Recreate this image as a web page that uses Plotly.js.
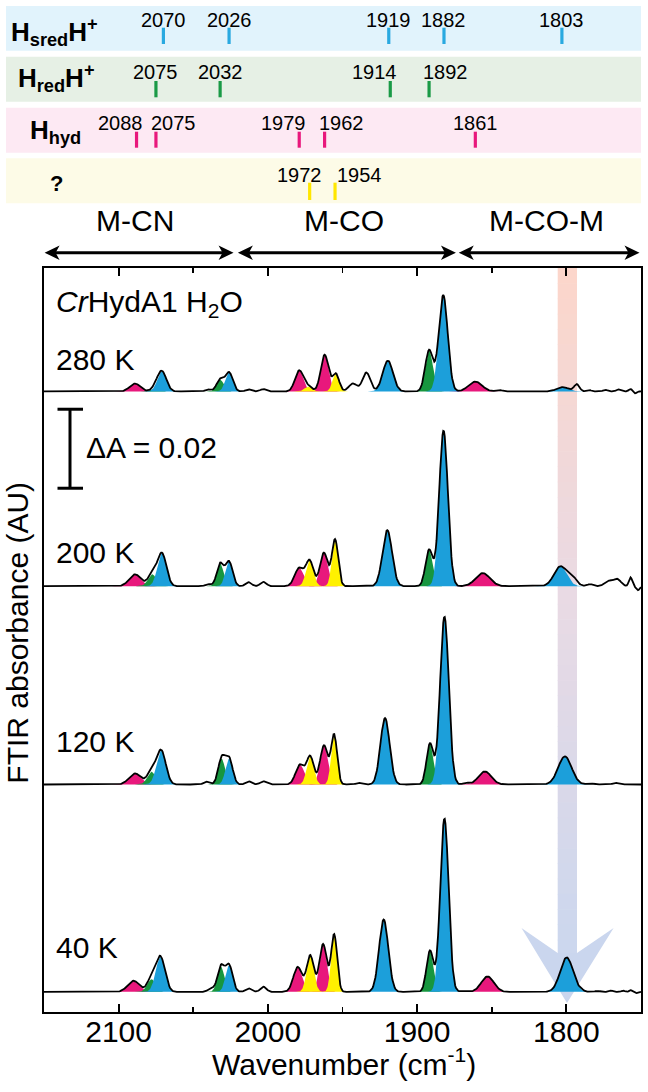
<!DOCTYPE html>
<html>
<head>
<meta charset="utf-8">
<script src="https://cdn.plot.ly/plotly-3.0.1.min.js"></script>
<style>
html,body{margin:0;padding:0;background:#ffffff;}
#chart{width:648px;height:1092px;}
</style>
</head>
<body>
<div id="chart"></div>
<script>
// ================= DATA =================
const xTickVals = [2100, 2000, 1900, 1800];
const xMinorTickVals = [2050, 1950, 1850];

// band assignments shown in the four header strips (cm-1)
const hsredLabels = ['2070', '2026', '1919', '1882', '1803'];
const hsredMarks  = [2070, 2026, 1919, 1882, 1803];
const hredLabels  = ['2075', '2032', '1914', '1892'];
const hredMarks   = [2075, 2032, 1918, 1892];
const hhydLabels  = ['2088', '2075', '1979', '1962', '1861'];
const hhydMarks   = [2088, 2075, 1979, 1962, 1861];
const unkLabels   = ['1972', '1954'];
const unkMarks    = [1972, 1955];

// spectral regions (cm-1)
const regionNames  = ['M-CN', 'M-CO', 'M-CO-M'];
const regionBounds = [[2150, 2023], [2020.5, 1874], [1872.5, 1751]];
const regionLabelAt = [2089, 1949, 1813];

const temperatures = ['280 K', '200 K', '120 K', '40 K'];
const baselines_mAU = [157.1, 107.8, 57.6, 5.1];  // stacking offsets
const scaleBar_mAU = 20;                           // ΔA = 0.02

// fitted components: [state, centre (cm-1), height (mAU), sigma (cm-1)]
const peaks280 = [
  ['Hhyd', 2089, 2.0, 3.5], ['Hred', 2075.5, 0.8, 2.5], ['Hsred', 2071, 5.1, 3.0],
  ['Hred', 2032, 3.0, 2.4], ['Hsred', 2026, 4.8, 2.5],
  ['Hhyd', 1979, 5.3, 2.8], ['unk', 1973, 1.2, 2.5], ['Hhyd', 1962, 9.3, 2.6], ['unk', 1954.5, 4.5, 2.2],
  ['Hsred', 1919.6, 7.8, 3.4], ['Hred', 1892, 10.4, 2.6], ['Hsred', 1882.5, 24.4, 3.0],
  ['Hhyd', 1861, 2.5, 4.5], ['Hsred', 1802.5, 1.1, 4.0]
];
const peaks200 = [
  ['Hhyd', 2089, 3.0, 3.9], ['Hred', 2077.5, 3.0, 2.8], ['Hsred', 2071, 8.3, 3.0],
  ['Hred', 2032, 5.7, 2.3], ['Hsred', 2026, 6.2, 2.4],
  ['Hhyd', 1979, 4.6, 3.0], ['unk', 1972, 6.4, 2.5], ['Hhyd', 1962.5, 8.5, 2.6], ['unk', 1955, 11.8, 2.1],
  ['Hsred', 1920, 14.2, 3.2], ['Hred', 1892, 9.2, 2.4], ['Hsred', 1882.3, 39.4, 2.9],
  ['Hhyd', 1856, 3.3, 4.8], ['Hsred', 1804, 5.0, 4.3]
];
const peaks120 = [
  ['Hhyd', 2089, 2.8, 4.0], ['Hred', 2078, 3.2, 2.8], ['Hsred', 2071.5, 8.6, 3.1],
  ['Hred', 2031, 6.5, 2.3], ['Hsred', 2026, 6.5, 2.4],
  ['Hhyd', 1978.5, 5.0, 2.9], ['unk', 1971.6, 7.0, 2.4], ['Hhyd', 1962.4, 9.9, 2.6], ['unk', 1955.6, 12.5, 2.0],
  ['Hsred', 1921.5, 16.8, 3.1], ['Hred', 1891.4, 10.3, 2.3], ['Hsred', 1881.7, 42.5, 2.9],
  ['Hhyd', 1854.6, 3.3, 4.3], ['Hsred', 1801, 7.1, 4.5]
];
const peaks40 = [
  ['Hhyd', 2090, 2.8, 3.9], ['Hred', 2078, 3.2, 2.8], ['Hsred', 2072, 8.8, 3.1],
  ['Hred', 2031.5, 6.4, 2.3], ['Hsred', 2026, 6.7, 2.4],
  ['Hhyd', 1980, 6.3, 2.9], ['unk', 1971.6, 9.2, 2.4], ['Hhyd', 1963, 12.1, 2.5], ['unk', 1955.6, 14.5, 2.0],
  ['Hsred', 1922.4, 18.3, 3.1], ['Hred', 1891.4, 10.4, 2.3], ['Hsred', 1881.7, 43.9, 2.8],
  ['Hhyd', 1852.8, 3.9, 4.2], ['Hsred', 1799.8, 8.7, 4.3]
];
// unassigned features of the measured trace: [centre (cm-1), height (mAU), sigma (cm-1)]
const extra280 = [[2040, 0.5, 2], [2013, 0.5, 2], [2003, 0.6, 2], [1943, 2.0, 2.8], [1934, 4.8, 2.6],
  [1845, 0.4, 2], [1793, 1.8, 1.8], [1785, 0.4, 1.5], [1774, 0.4, 1.5], [1765, 0.5, 1.5], [1757, 0.6, 1.2], [1754, -0.5, 1]];
const extra200 = [[2040, 0.5, 2], [2013, 1.0, 2], [2003, 1.1, 2], [1796, 2.0, 3],
  [1784, 0.5, 2], [1772, 1.3, 2.5], [1766, 1.8, 2.5], [1757, 2.2, 1.1], [1752, -1.0, 1.2]];
const extra120 = [[2041, 0.7, 2], [2013, 0.8, 2], [2003, 0.8, 2], [1939, 0.4, 2], [1867, 0.4, 2], [1784, 0.3, 2], [1767, 0.4, 2]];
const extra40 = [[2038, 0.9, 2], [2013, 0.9, 2], [2003, 1.3, 2], [1869, 0.3, 2],
  [1790, 0.3, 1.5], [1779, 0.25, 1.5], [1770, 0.35, 1.2], [1762, 0.3, 1.2], [1757, 0.4, 1], [1753, -0.3, 1]];

// ================= LAYOUT / STYLE =================
const W = 648, H = 1092;
const M = {l: 44, r: 7, t: 268, b: 80};
const plotW = W - M.l - M.r, plotH = H - M.t - M.b;
const X_RANGE = [2150, 1750];
const Y_RANGE = [0, plotH / 3.95];
const FONT = 'Liberation Sans, Arial, Helvetica, sans-serif';
const FILL = {Hsred: '#1c9fda', Hred: '#17963f', Hhyd: '#e8187c', unk: '#fff100'};
const MARK = {Hsred: '#29a9e0', Hred: '#1a9a46', Hhyd: '#e8187c', unk: '#ffe600'};
const drawOrder = ['Hhyd', 'unk', 'Hred', 'Hsred'];

function wx(px) { return X_RANGE[0] - (px - M.l) / plotW * (X_RANGE[0] - X_RANGE[1]); }
function py(p) { return (H - M.b - p) / plotH; }
function pxp(px) { return (px - M.l) / plotW; }
function gauss(w, c, h, s) { return h * Math.exp(-0.5 * Math.pow((w - c) / s, 2)); }

const allPeaks = [peaks280, peaks200, peaks120, peaks40];
const allExtra = [extra280, extra200, extra120, extra40];

const traces = [];
const grid = [];
for (let w = X_RANGE[0]; w >= X_RANGE[1] - 1e-9; w -= 0.5) grid.push(w);

allPeaks.forEach((peaks, i) => {
  const off = baselines_mAU[i];
  drawOrder.forEach(state => {
    peaks.filter(p => p[0] === state).forEach(p => {
      const c = p[1], h = p[2], s = p[3];
      const xs = [], ys = [];
      for (let w = c + 4 * s; w >= c - 4 * s; w -= 0.25) { xs.push(w); ys.push(off + gauss(w, c, h, s)); }
      xs.push(c - 4 * s, c + 4 * s); ys.push(off, off);
      traces.push({type: 'scatter', mode: 'lines', x: xs, y: ys, fill: 'toself',
        fillcolor: FILL[state], line: {width: 0}, hoverinfo: 'skip', showlegend: false});
    });
  });
  const env = grid.map(w => {
    let v = off;
    peaks.forEach(p => { v += gauss(w, p[1], p[2], p[3]); });
    allExtra[i].forEach(e => { v += gauss(w, e[0], e[1], e[2]); });
    return v;
  });
  traces.push({type: 'scatter', mode: 'lines', x: grid, y: env, name: temperatures[i],
    line: {color: '#000000', width: 1.8}, hoverinfo: 'skip', showlegend: false});
});

const shapes = [];
const annotations = [];

// header strips
const strips = [
  {y0: 6, y1: 50.7, color: '#e1f3fc'},
  {y0: 56.7, y1: 101.7, color: '#e6f0e5'},
  {y0: 107.7, y1: 152.7, color: '#fde9f3'},
  {y0: 158.3, y1: 203.3, color: '#fdfbe7'}
];
strips.forEach(s => shapes.push({type: 'rect', xref: 'paper', yref: 'paper',
  x0: pxp(6), x1: 1, y0: py(s.y1), y1: py(s.y0), fillcolor: s.color, line: {width: 0}, layer: 'above'}));

const stripRows = [
  {state: 'Hsred', marks: hsredMarks, labels: hsredLabels, shift: [0, 0, 0, 0, 0], ty: 20, b0: 27.7, b1: 44},
  {state: 'Hred', marks: hredMarks, labels: hredLabels, shift: [0, 0, -15.5, 16.5], ty: 71.7, b0: 81, b1: 97.3},
  {state: 'Hhyd', marks: hhydMarks, labels: hhydLabels, shift: [-15.7, 17.4, -16.1, 16.9, 0], ty: 123.3, b0: 131.7, b1: 147.7},
  {state: 'unk', marks: unkMarks, labels: unkLabels, shift: [-9.7, 24], ty: 175, b0: 182.7, b1: 200}
];
stripRows.forEach(r => {
  r.marks.forEach((m, k) => {
    shapes.push({type: 'line', xref: 'x', yref: 'paper', x0: m, x1: m, y0: py(r.b1), y1: py(r.b0),
      line: {color: MARK[r.state], width: 3.2}, layer: 'above'});
    annotations.push({xref: 'x', yref: 'paper', x: m, y: py(r.ty), xshift: r.shift[k], text: r.labels[k],
      showarrow: false, xanchor: 'center', yanchor: 'middle', font: {family: FONT, size: 20, color: '#000'}});
  });
});
// strip names
const stripNames = [
  {text: '<b>H<sub>sred</sub>H<sup>+</sup></b>', x: 9.3, y: 32, anchor: 'left', size: 26},
  {text: '<b>H<sub>red</sub>H<sup>+</sup></b>', x: 15.5, y: 78, anchor: 'left', size: 26},
  {text: '<b>H<sub>hyd</sub></b>', x: 28, y: 131, anchor: 'left', size: 26},
  {text: '<b>?</b>', x: 56, y: 183, anchor: 'center', size: 22}
];
stripNames.forEach(s => annotations.push({xref: 'paper', yref: 'paper', x: pxp(s.x), y: py(s.y), text: s.text,
  showarrow: false, xanchor: s.anchor, yanchor: 'middle', font: {family: FONT, size: s.size, color: '#000'}}));

// region double arrows
const arrowY = 252.7;
function headPath(tipPx, yPx, dir) {
  const L = 15, hw = 7.2, n = 4;
  const pts = [[tipPx, yPx], [tipPx - dir * L, yPx - hw], [tipPx - dir * (L - n), yPx], [tipPx - dir * L, yPx + hw]];
  return 'M' + pts.map(p => wx(p[0]) + ',' + py(p[1])).join(' L') + ' Z';
}
function toPx(w) { return M.l + (X_RANGE[0] - w) / (X_RANGE[0] - X_RANGE[1]) * plotW; }
regionBounds.forEach((b, k) => {
  const pL = toPx(b[0]) + 0.6, pR = toPx(b[1]);
  shapes.push({type: 'line', xref: 'x', yref: 'paper', x0: wx(pL + 10), x1: wx(pR - 10), y0: py(arrowY), y1: py(arrowY),
    line: {color: '#000', width: 3}});
  shapes.push({type: 'path', xref: 'x', yref: 'paper', path: headPath(pL, arrowY, -1), fillcolor: '#000', line: {width: 0}});
  shapes.push({type: 'path', xref: 'x', yref: 'paper', path: headPath(pR, arrowY, 1), fillcolor: '#000', line: {width: 0}});
  annotations.push({xref: 'x', yref: 'paper', x: regionLabelAt[k], y: py(221), text: regionNames[k], showarrow: false,
    xanchor: 'center', yanchor: 'middle', font: {family: FONT, size: 30, color: '#000'}});
});

// highlighted 1800 band with gradient + arrow head
const bandL = 557.7, bandR = 577, bandTop = M.t, bandBot = 955;
const stops = [[268, [252, 214, 202]], [600, [233, 218, 228]], [955, [203, 215, 238]]];
function colAt(y) {
  for (let k = 0; k < stops.length - 1; k++) {
    if (y <= stops[k + 1][0]) {
      const t = (y - stops[k][0]) / (stops[k + 1][0] - stops[k][0]);
      const c = stops[k][1].map((v, j) => Math.round(v + (stops[k + 1][1][j] - v) * t));
      return 'rgb(' + c.join(',') + ')';
    }
  }
  return 'rgb(' + stops[stops.length - 1][1].join(',') + ')';
}
const NS = 45;
for (let k = 0; k < NS; k++) {
  const y0 = bandTop + (bandBot - bandTop) * k / NS, y1 = bandTop + (bandBot - bandTop) * (k + 1) / NS + 0.6;
  shapes.push({type: 'rect', xref: 'x', yref: 'paper', x0: wx(bandL), x1: wx(bandR), y0: py(y1), y1: py(y0),
    fillcolor: colAt((y0 + y1) / 2), line: {width: 0}, layer: 'below'});
}
const headPts = [[521.5, 928], [bandL, 953], [bandR, 953], [613.6, 928], [567, 1003]];
shapes.push({type: 'path', xref: 'x', yref: 'paper', layer: 'below', fillcolor: 'rgb(202,214,238)', line: {width: 0},
  path: 'M' + headPts.map(p => wx(p[0]) + ',' + py(p[1])).join(' L') + ' Z'});

// ΔA scale bar
const sbBottom = 132.6;
const sbX = wx(70), sbX0 = wx(57.5), sbX1 = wx(83);
shapes.push({type: 'line', xref: 'x', yref: 'y', x0: sbX, x1: sbX, y0: sbBottom, y1: sbBottom + scaleBar_mAU, line: {color: '#000', width: 3}});
shapes.push({type: 'line', xref: 'x', yref: 'y', x0: sbX0, x1: sbX1, y0: sbBottom, y1: sbBottom, line: {color: '#000', width: 3}});
shapes.push({type: 'line', xref: 'x', yref: 'y', x0: sbX0, x1: sbX1, y0: sbBottom + scaleBar_mAU, y1: sbBottom + scaleBar_mAU, line: {color: '#000', width: 3}});
annotations.push({xref: 'paper', yref: 'paper', x: pxp(84), y: py(447), text: 'ΔA = 0.02', showarrow: false,
  xanchor: 'left', yanchor: 'middle', font: {family: FONT, size: 30, color: '#000'}});

// in-plot texts
annotations.push({xref: 'paper', yref: 'paper', x: pxp(54), y: py(283.3), text: '<i>Cr</i>HydA1 H<sub>2</sub>O',
  showarrow: false, xanchor: 'left', yanchor: 'top', font: {family: FONT, size: 30, color: '#000'}});
const tempLabelY = [359, 552.5, 741, 947];
temperatures.forEach((t, i) => annotations.push({xref: 'paper', yref: 'paper', x: pxp(54), y: py(tempLabelY[i]), text: t,
  showarrow: false, xanchor: 'left', yanchor: 'middle', font: {family: FONT, size: 30, color: '#000'}}));

// axis titles
annotations.push({xref: 'paper', yref: 'paper', x: pxp(344), y: py(1083), text: 'Wavenumber (cm<sup>-1</sup>)',
  showarrow: false, xanchor: 'center', yanchor: 'bottom', font: {family: FONT, size: 30, color: '#000'}});
annotations.push({xref: 'paper', yref: 'paper', x: pxp(16.7), y: py(633), text: 'FTIR absorbance (AU)', textangle: -90,
  showarrow: false, xanchor: 'center', yanchor: 'middle', font: {family: FONT, size: 30, color: '#000'}});

const layout = {
  width: W, height: H,
  margin: M,
  paper_bgcolor: '#ffffff', plot_bgcolor: '#ffffff',
  showlegend: false,
  font: {family: FONT, color: '#000'},
  xaxis: {
    range: X_RANGE, tickmode: 'array', tickvals: xTickVals, ticktext: xTickVals.map(String),
    ticks: 'inside', ticklen: 8, tickwidth: 1.8, tickcolor: '#000',
    minor: {tickmode: 'array', tickvals: xMinorTickVals, ticks: 'inside', ticklen: 5, tickwidth: 1.8, tickcolor: '#000'},
    showline: true, linewidth: 2, linecolor: '#000', mirror: 'ticks',
    showgrid: false, zeroline: false, tickfont: {family: FONT, size: 30, color: '#000'},
    ticklabelstandoff: -8, fixedrange: true
  },
  yaxis: {
    range: Y_RANGE, showticklabels: false, ticks: '', showgrid: false, zeroline: false,
    showline: true, linewidth: 2, linecolor: '#000', mirror: true, fixedrange: true
  },
  shapes: shapes,
  annotations: annotations
};

Plotly.newPlot('chart', traces, layout, {staticPlot: true, displayModeBar: false});
</script>
</body>
</html>
